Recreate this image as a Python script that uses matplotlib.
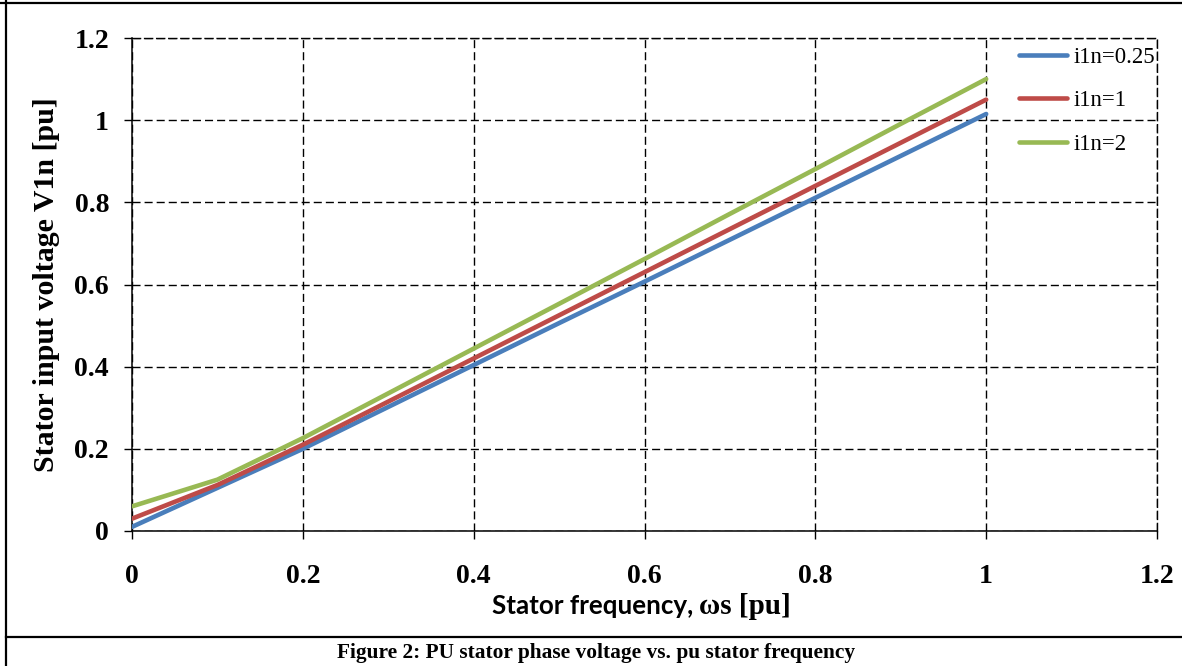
import numpy as np
import matplotlib
matplotlib.use('Agg')
import matplotlib.pyplot as plt
from matplotlib.lines import Line2D

# data (pu)
ws = [0.0, 0.1, 0.2, 0.3, 0.4, 0.5, 0.6, 0.7, 0.8, 0.9, 1.0]
v_i025 = [0.01, 0.105, 0.200, 0.302, 0.404, 0.506, 0.607, 0.709, 0.811, 0.913, 1.015]
v_i1 = [0.03, 0.112, 0.210, 0.315, 0.420, 0.525, 0.630, 0.735, 0.840, 0.945, 1.050]
v_i2 = [0.06, 0.125, 0.226, 0.335, 0.444, 0.553, 0.662, 0.772, 0.881, 0.991, 1.100]
labels = ['i1n=0.25', 'i1n=1', 'i1n=2']
ticks = [0, 0.2, 0.4, 0.6, 0.8, 1, 1.2]
tick_labels = ['0', '0.2', '0.4', '0.6', '0.8', '1', '1.2']

W, H = 1182, 666
plt.rcParams['lines.scale_dashes'] = False
serif = ['Liberation Serif', 'DejaVu Serif']

fig = plt.figure(figsize=(W / 100, H / 100), dpi=100)
ax = fig.add_axes([132 / W, 1 - 531 / H, (1157 - 132) / W, (531 - 38) / H])

colors = ['#4A7EBB', '#BE4B48', '#98B954']
for ys, c, lab in zip([v_i025, v_i1, v_i2], colors, labels):
    ax.plot(ws, ys, color=c, lw=3.3, label=lab, solid_capstyle='round',
            solid_joinstyle='round', zorder=3)

ax.set_xlim(0, 1.2)
ax.set_ylim(0, 1.2)
ax.set_xticks(ticks)
ax.set_yticks(ticks)
ax.set_xticklabels(tick_labels, fontfamily=serif, fontweight='bold', fontsize=20)
ax.set_yticklabels(tick_labels, fontfamily=serif, fontweight='bold', fontsize=20)
ax.tick_params(axis='both', direction='out', length=5.5, width=1.0, color='black')
ax.tick_params(axis='x', pad=18)
ax.tick_params(axis='y', pad=11)

dash = (0, (5.8, 2.9))
ax.grid(True, color='black', lw=1.0, linestyle=dash, zorder=1)
for s in ['left', 'bottom']:
    ax.spines[s].set_linewidth(1.1)
for s in ['top', 'right']:
    ax.spines[s].set_linewidth(1.0)
    ax.spines[s].set_linestyle(dash)

leg = ax.legend(loc='upper left', bbox_to_anchor=(1019 / W, 1 - 47 / H),
                bbox_transform=fig.transFigure, frameon=False,
                prop={'family': serif, 'size': 16.5}, handlelength=2.1,
                handletextpad=0.3, labelspacing=0.97, borderpad=0,
                borderaxespad=0)
for t in leg.get_texts():
    t.set_clip_box(ax.bbox)
    t.set_clip_on(True)

# axis titles
fig.text(47 / W, 1 - 285 / H, 'Stator input voltage V1n [pu]', rotation=90,
         ha='center', va='center', fontfamily=serif, fontweight='bold',
         fontsize=21.5)
fig.text(693 / W, 1 - 606 / H, 'Stator frequency,', ha='right', va='center',
         fontfamily=['Lato', 'DejaVu Sans'], fontweight='bold', fontsize=18.7)
fig.text(699 / W, 1 - 606 / H, '\u03c9s [pu]', ha='left', va='center',
         fontfamily=serif, fontweight='bold', fontsize=21)

# caption and frame
fig.text(596 / W, 1 - 653 / H, 'Figure 2: PU stator phase voltage vs. pu stator frequency',
         ha='center', va='center', fontfamily=serif, fontweight='bold',
         fontsize=15.4)
fig.add_artist(Line2D([0, 1], [1 - 2.5 / H, 1 - 2.5 / H], color='black', lw=1.6,
                      transform=fig.transFigure))
fig.add_artist(Line2D([6 / W, 6 / W], [0, 1], color='black', lw=1.6,
                      transform=fig.transFigure))
fig.add_artist(Line2D([6 / W, 1], [1 - 637 / H, 1 - 637 / H], color='black', lw=1.6,
                      transform=fig.transFigure))

fig.savefig('out.png', dpi=100)
